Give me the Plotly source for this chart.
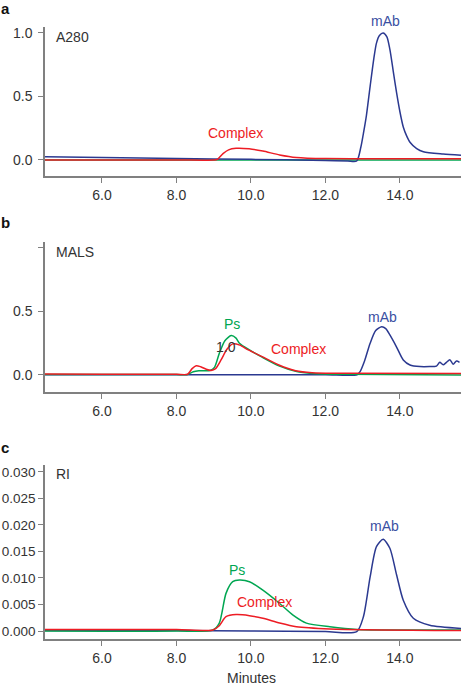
import plotly.graph_objects as go

# ---------------- data ----------------
# Panel a (A280)
a_blue_t = [4.47, 6.0, 8.0, 10.0, 12.0, 12.6, 12.84, 12.95, 13.02, 13.1, 13.2, 13.3, 13.37, 13.45, 13.55,
            13.65, 13.73, 13.82, 13.91, 14.0, 14.09, 14.18, 14.27, 14.45, 14.63, 15.16, 15.64]
a_blue_v = [0.026, 0.02, 0.012, 0.005, -0.003, -0.008, -0.008, 0.1, 0.21, 0.35, 0.58, 0.8, 0.92, 0.98, 1.0,
            0.97, 0.87, 0.70, 0.53, 0.38, 0.26, 0.19, 0.14, 0.09, 0.065, 0.047, 0.037]
a_red_t = [4.47, 8.0, 9.0, 9.1, 9.25, 9.4, 9.6, 9.95, 10.32, 10.77, 11.22, 12.0, 13.0, 15.64]
a_red_v = [0.0, 0.0, 0.0, 0.005, 0.05, 0.08, 0.092, 0.088, 0.07, 0.04, 0.02, 0.011, 0.01, 0.01]
a_green_t = [4.47, 10.0, 15.64]
a_green_v = [0.0, 0.0, 0.0]

# Panel b (MALS)
b_blue_t = [4.47, 8.0, 10.0, 12.0, 12.85, 12.93, 13.05, 13.2, 13.35, 13.51, 13.62, 13.73, 13.91, 14.09, 14.27,
            14.54, 14.8, 14.98, 15.07, 15.16, 15.25, 15.34, 15.43, 15.52, 15.6]
b_blue_v = [0.002, 0.002, 0.002, 0.002, 0.002, 0.026, 0.11, 0.25, 0.35, 0.38, 0.365, 0.315, 0.22, 0.118, 0.079,
            0.066, 0.066, 0.07, 0.1, 0.08, 0.1, 0.12, 0.085, 0.11, 0.1]
b_green_t = [4.47, 8.0, 8.3, 8.45, 8.6, 8.9, 9.02, 9.15, 9.3, 9.47, 9.6, 9.69, 9.96, 10.3, 10.75, 11.2,
             11.64, 12.5, 15.64]
b_green_v = [0.003, 0.003, 0.004, 0.025, 0.033, 0.035, 0.06, 0.17, 0.27, 0.31, 0.29, 0.25, 0.197, 0.14,
             0.072, 0.03, 0.012, 0.005, 0.0]
b_red_t = [4.47, 6.0, 8.0, 8.3, 8.42, 8.53, 8.65, 8.8, 8.93, 9.05, 9.2, 9.35, 9.51, 9.7, 9.93, 10.3, 10.75,
           11.2, 11.64, 12.5, 15.64]
b_red_v = [0.008, 0.006, 0.005, 0.006, 0.05, 0.073, 0.065, 0.045, 0.036, 0.05, 0.12, 0.2, 0.245, 0.235,
           0.197, 0.144, 0.079, 0.034, 0.018, 0.013, 0.012]

# Panel c (RI)
c_blue_t = [4.47, 8.0, 10.0, 12.0, 12.84, 13.02, 13.2, 13.37, 13.55, 13.73, 13.91, 14.09, 14.36, 14.8, 15.64]
c_blue_v = [0.0001, 0.0001, 0.0, -0.0001, -0.0001, 0.0027, 0.0102, 0.0159, 0.0173, 0.0156, 0.0106, 0.0058,
            0.0024, 0.0011, 0.0005]
c_green_t = [4.47, 8.0, 8.98, 9.15, 9.33, 9.51, 9.69, 9.96, 10.32, 10.77, 11.13, 11.49, 12.12, 12.84, 15.64]
c_green_v = [0.0, 0.0, 0.0002, 0.0015, 0.0071, 0.0093, 0.0096, 0.0093, 0.0077, 0.0052, 0.003, 0.0015,
             0.0008, 0.0003, 0.0002]
c_red_t = [4.47, 8.0, 8.98, 9.15, 9.33, 9.6, 9.96, 10.32, 10.77, 11.22, 12.12, 15.64]
c_red_v = [0.0003, 0.0003, 0.0002, 0.001, 0.0027, 0.0031, 0.0029, 0.0024, 0.0015, 0.0008, 0.0004, 0.0001]

x_ticks = [6.0, 8.0, 10.0, 12.0, 14.0]
a_yticks = [0.0, 0.5, 1.0]
b_yticks = [0.0, 0.5, 1.0]
b_yticklabels = ["0.0", "0.5", ""]
c_yticks = [0.0, 0.005, 0.010, 0.015, 0.020, 0.025, 0.030]

# ---------------- style ----------------
W, H = 464, 685
ML, MR, MT, MB = 45, 3, 27, 46
PW, PH = W - ML - MR, H - MT - MB
BLUE, RED, GREEN = "#2b3990", "#ed1c24", "#00a651"
BLUE_T = "#3a4fa2"
AX = "#808080"
TXT = "#333333"
FONT = "Liberation Sans, Arial, sans-serif"


def px(x):
    return (x - ML) / PW


def py(y):
    return (H - MB - y) / PH


def dom(top, bottom):
    return [py(bottom), py(top)]


fig = go.Figure()
LW = 1.5


def add(t, v, color, xa, ya):
    fig.add_trace(go.Scatter(x=t, y=v, mode="lines", line=dict(color=color, width=LW, shape="spline", smoothing=0.7),
                             xaxis=xa, yaxis=ya, showlegend=False, hoverinfo="skip"))


add(a_green_t, a_green_v, GREEN, "x", "y")
add(a_blue_t, a_blue_v, BLUE, "x", "y")
add(a_red_t, a_red_v, RED, "x", "y")
add(b_blue_t, b_blue_v, BLUE, "x2", "y2")
add(b_green_t, b_green_v, GREEN, "x2", "y2")
add(b_red_t, b_red_v, RED, "x2", "y2")
add(c_blue_t, c_blue_v, BLUE, "x3", "y3")
add(c_green_t, c_green_v, GREEN, "x3", "y3")
add(c_red_t, c_red_v, RED, "x3", "y3")

xcommon = dict(range=[4.47, 15.64], tickvals=x_ticks, tickformat=".1f", showline=True, linecolor=AX,
               linewidth=1.5, ticks="outside", ticklen=5, tickcolor=AX, tickwidth=1.2, showgrid=False,
               zeroline=False, tickfont=dict(size=14, color=TXT, family=FONT), domain=[0, 1],
               automargin=False)
ycommon = dict(showline=True, linecolor=AX, linewidth=1.5, ticks="outside", ticklen=5, tickcolor=AX,
               tickwidth=1.2, showgrid=False, zeroline=False, automargin=False)
yfont = dict(size=14, color=TXT, family=FONT)

fig.update_layout(
    template="none",
    width=W, height=H, margin=dict(l=ML, r=MR, t=MT, b=MB, autoexpand=False),
    paper_bgcolor="white", plot_bgcolor="white",
    font=dict(family=FONT, color=TXT, size=14),
    xaxis=dict(**xcommon, anchor="y"),
    xaxis2=dict(**xcommon, anchor="y2"),
    xaxis3=dict(**xcommon, anchor="y3"),
    yaxis=dict(**ycommon, anchor="x", domain=dom(27, 176), range=[-0.126, 1.047], tickvals=a_yticks,
               tickformat=".1f", tickfont=yfont, ticklabelstandoff=3),
    yaxis2=dict(**ycommon, anchor="x2", domain=dom(242, 392), range=[-0.134, 1.047], tickvals=b_yticks,
                ticktext=b_yticklabels, tickfont=yfont, ticklabelstandoff=3),
    yaxis3=dict(**ycommon, anchor="x3", domain=dom(465, 639), range=[-0.0015, 0.0313], tickvals=c_yticks,
                tickformat=".3f", tickfont=dict(size=13.5, color=TXT, family=FONT), ticklabelstandoff=0),
)


def label(text, x, y, color=TXT, size=14, bold=False):
    fig.add_annotation(text=f"<b>{text}</b>" if bold else text, x=px(x), y=py(y), xref="paper", yref="paper",
                       showarrow=False, xanchor="center", yanchor="middle",
                       font=dict(size=size, color=color, family=FONT))


# panel letters
label("a", 5, 8, "#111111", 15, True)
label("b", 5, 222, "#111111", 15, True)
label("c", 5, 447, "#111111", 15, True)
# detector names
fig.add_annotation(text="A280", x=px(54), y=py(37), xref="paper", yref="paper", showarrow=False,
                   xanchor="left", yanchor="middle", font=dict(size=14, color=TXT, family=FONT))
fig.add_annotation(text="MALS", x=px(54), y=py(252), xref="paper", yref="paper", showarrow=False,
                   xanchor="left", yanchor="middle", font=dict(size=14, color=TXT, family=FONT))
fig.add_annotation(text="RI", x=px(54), y=py(474), xref="paper", yref="paper", showarrow=False,
                   xanchor="left", yanchor="middle", font=dict(size=14, color=TXT, family=FONT))
# peak labels
label("mAb", 385, 21, BLUE_T)
label("Complex", 235, 133, RED)
label("Ps", 232, 324, GREEN)
label("1.0", 226, 347, TXT)
label("Complex", 298, 349, RED)
label("mAb", 382, 317, BLUE_T)
label("Ps", 237, 570, GREEN)
label("Complex", 264, 602, RED)
label("mAb", 384, 526, BLUE_T)
label("Minutes", 251, 678, TXT)

fig.write_html("out.html", config={"displayModeBar": False},
               post_script="document.body.style.margin='0';document.body.style.padding='0';"
                           "document.documentElement.style.overflow='hidden';")
